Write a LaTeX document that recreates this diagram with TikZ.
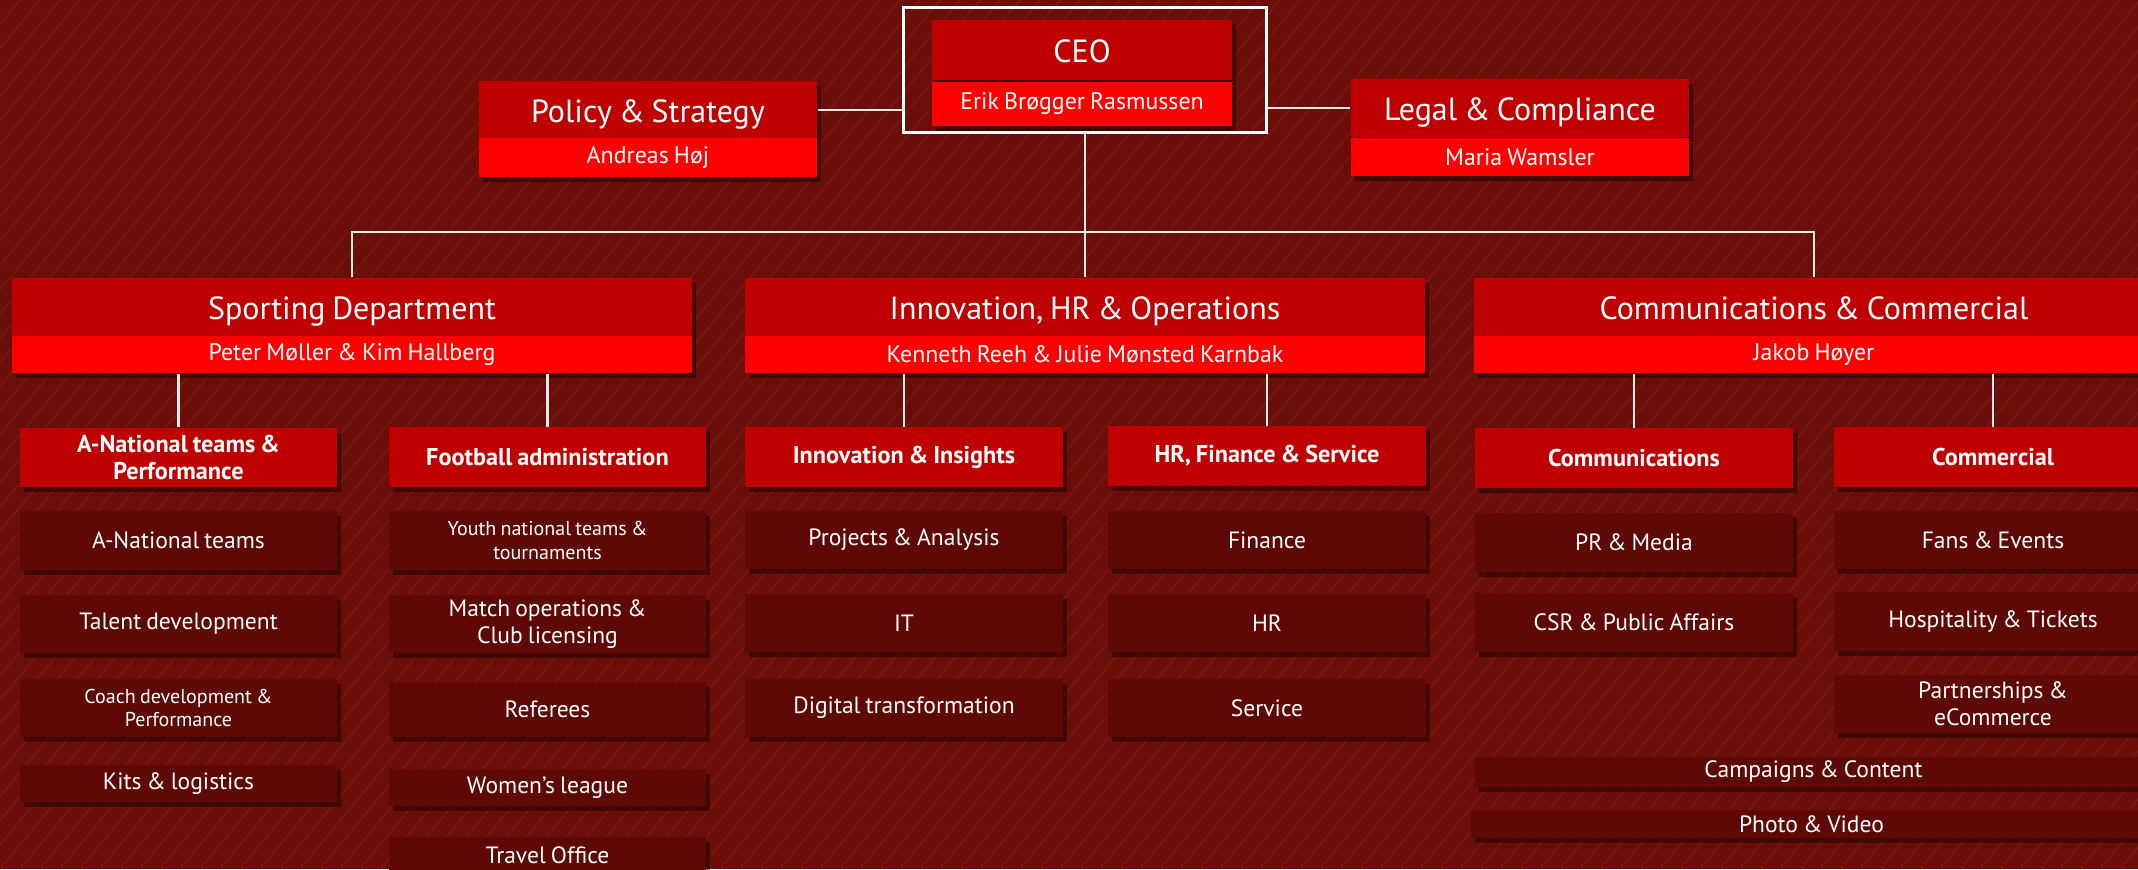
\documentclass[tikz,border=0pt]{standalone}
\usepackage{fontspec}
\setmainfont{PT Sans}[WordSpace=0.8]
\usetikzlibrary{shadows}
\definecolor{bgred}{HTML}{6A0E09}
\definecolor{stripered}{HTML}{8A1A12}
\definecolor{titlered}{HTML}{BF0000}
\definecolor{namered}{HTML}{FF0000}
\definecolor{itemred}{HTML}{5E0905}
\definecolor{linkgray}{HTML}{E8E8E8}

\begin{document}
\begin{tikzpicture}[x=0.01cm,y=-0.01cm,
    box/.style={inner sep=1pt, text=white, align=center,
      drop shadow={fill=black, shadow xshift=0.04cm, shadow yshift=-0.05cm, opacity=0.4}},
    head/.style={box, fill=titlered, font=\fontsize{9.1}{10}\selectfont, text height=0.7em, text depth=0pt},
    who/.style={box, fill=namered, font=\fontsize{6.8}{8}\selectfont},
    top/.style={head, minimum width=3.38cm, minimum height=0.58cm},
    topname/.style={who, minimum width=3.38cm, minimum height=0.38cm},
    dept/.style={head, minimum width=6.79cm, minimum height=0.58cm},
    deptname/.style={who, minimum width=6.79cm, minimum height=0.37cm},
    unit/.style={box, fill=titlered, font=\bfseries\fontsize{6.9}{7.6}\selectfont,
      minimum width=3.17cm, minimum height=0.59cm},
    item/.style={box, fill=itemred, font=\fontsize{6.7}{7.6}\selectfont,
      minimum width=3.17cm, minimum height=0.58cm},
    short/.style={minimum height=0.37cm},
    small/.style={font=\fontsize{5.7}{6.6}\selectfont},
    link/.style={draw=linkgray, line width=0.6pt}]

  \useasboundingbox (0,0) rectangle (2138,869);
  \clip (0,0) rectangle (2138,869);
  \fill[bgred] (0,0) rectangle (2138,869);
  \foreach \i in {-720,-700,...,2140}
    \draw[stripered, line width=0.45pt, opacity=0.6] (\i,869) -- ++(720,-869);

  % top level
  \node[draw=white, line width=0.8pt, minimum width=3.62cm, minimum height=1.25cm] (ceoframe) at (1085,70) {};
  \node[head, minimum width=2.99cm, minimum height=0.59cm] (ceo) at (1082,50) {CEO};
  \node[who, minimum width=2.99cm, minimum height=0.44cm] (ceoname) at (1082,104) {Erik Brøgger Rasmussen};
  \node[top] (policy) at (648,110) {Policy \& Strategy};
  \node[topname] (policyname) at (648,157.5) {Andreas Høj};
  \node[top] (legal) at (1520,108) {Legal \& Compliance};
  \node[topname] (legalname) at (1520,157) {Maria Wamsler};

  % departments
  \node[dept] (sport) at (352,307) {Sporting Department};
  \node[deptname] (sportname) at (352,354.5) {Peter Møller \& Kim Hallberg};
  \node[dept] (inno) at (1085,307) {Innovation, HR \& Operations};
  \node[deptname] (innoname) at (1085,354.5) {Kenneth Reeh \& Julie Mønsted Karnbak};
  \node[dept] (comm) at (1814,307) {Communications \& Commercial};
  \node[deptname] (commname) at (1814,354.5) {Jakob Høyer};

  % units
  \node[unit] (natl) at (178.5,457.5) {A-National teams \&\\Performance};
  \node[unit] (admin) at (547.5,457) {Football administration};
  \node[unit] (insight) at (904,457) {Innovation \& Insights};
  \node[unit] (hrfin) at (1267,456) {HR, Finance \& Service};
  \node[unit] (comms) at (1634,458) {Communications};
  \node[unit] (commer) at (1993,457) {Commercial};

  % teams
  \node[item] (natlteams) at (178.5,540.5) {A-National teams};
  \node[item] (talent) at (178.5,624) {Talent development};
  \node[item, small] (coach) at (178.5,708) {Coach development \&\\Performance};
  \node[item, short] (kits) at (178.5,783.5) {Kits \& logistics};
  \node[item, small] (youth) at (547.5,540.5) {Youth national teams \&\\tournaments};
  \node[item] (match) at (547.5,624) {Match operations \&\\Club licensing};
  \node[item, minimum height=0.55cm] (referees) at (547.5,709.5) {Referees};
  \node[item, short] (women) at (547.5,787.5) {Women’s league};
  \node[item, short] (travel) at (547.5,855.5) {Travel Office};
  \node[item] (projects) at (904,540) {Projects \& Analysis};
  \node[item] (it) at (904,623) {IT};
  \node[item] (digital) at (904,708) {Digital transformation};
  \node[item] (finance) at (1267,540) {Finance};
  \node[item] (hr) at (1267,623) {HR};
  \node[item] (service) at (1267,708) {Service};
  \node[item] (prmedia) at (1634,542.5) {PR \& Media};
  \node[item] (csr) at (1634,622.5) {CSR \& Public Affairs};
  \node[item] (fans) at (1993,540) {Fans \& Events};
  \node[item] (hospitality) at (1993,621.5) {Hospitality \& Tickets};
  \node[item] (partners) at (1993,704) {Partnerships \&\\eCommerce};
  \node[item, minimum width=6.77cm, minimum height=0.30cm] (campaigns) at (1813.5,772) {Campaigns \& Content};
  \node[item, minimum width=6.81cm, minimum height=0.28cm] (photo) at (1811.5,824) {Photo \& Video};

  % connectors
  \draw[link] (policy.east) -- (policy.east -| ceoframe.west);
  \draw[link] (legal.west) -- (legal.west -| ceoframe.east);
  \draw[link] (ceoframe.south) -- (ceoframe.south |- inno.north);
  \coordinate (bus) at (1085,232);
  \draw[link] (sport.north) |- (bus) -| (comm.north);
  \draw[link] (natl.north |- sportname.south) -- (natl.north);
  \draw[link] (admin.north |- sportname.south) -- (admin.north);
  \draw[link] (insight.north |- innoname.south) -- (insight.north);
  \draw[link] (hrfin.north |- innoname.south) -- (hrfin.north);
  \draw[link] (comms.north |- commname.south) -- (comms.north);
  \draw[link] (commer.north |- commname.south) -- (commer.north);
\end{tikzpicture}
\end{document}
